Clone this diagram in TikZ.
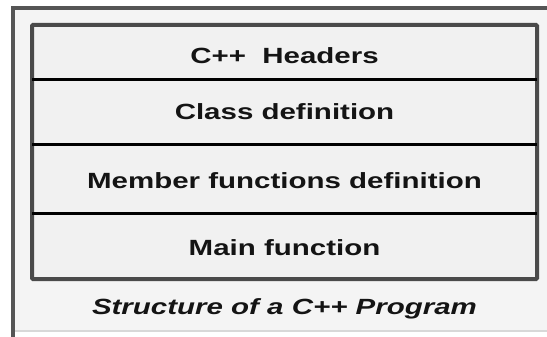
\documentclass[tikz,border=0pt]{standalone}
\usepackage{fontspec}
\newfontfamily\labfont[FakeStretch=1.34]{Liberation Sans}
\definecolor{txt}{HTML}{141414}
\definecolor{frame}{HTML}{555555}
\definecolor{boxline}{HTML}{4A4A4A}
\definecolor{outerbg}{HTML}{F4F4F4}
\definecolor{innerbg}{HTML}{F1F1F1}
\definecolor{faint}{HTML}{D8D8D8}
\tikzset{
  lab/.style={anchor=base, inner sep=0pt, text=txt,
    font=\labfont\bfseries\fontsize{22}{26}\selectfont},
  caption/.style={lab, font=\labfont\bfseries\itshape\fontsize{22}{26}\selectfont},
  outerframe/.style={draw=frame, line width=4pt},
  innerframe/.style={draw=boxline, line width=4pt, fill=innerbg, rounded corners=1pt},
  divider/.style={draw=black, line width=3pt}
}
\begin{document}
\begin{tikzpicture}[x=1pt,y=-1pt]
\useasboundingbox (0,0) rectangle (547,337);
\clip (0,0) rectangle (547,337);
\fill[white] (0,0) rectangle (547,337);
\fill[outerbg] (12.5,8) rectangle (570,331);
\draw[faint, line width=1.5pt] (12.5,331) -- (570,331);
\draw[outerframe] (12.5,340) -- (12.5,8) -- (570,8);
\draw[innerframe] (32,25) rectangle (537,279);
\coordinate (d1l) at (32,80);  \coordinate (d1r) at (537,80);
\coordinate (d2l) at (32,145); \coordinate (d2r) at (537,145);
\coordinate (d3l) at (32,213); \coordinate (d3r) at (537,213);
\draw[divider] (d1l) -- (d1r);
\draw[divider] (d2l) -- (d2r);
\draw[divider] (d3l) -- (d3r);
\node[lab] (headers) at (284.5,63.8) {C++\ \ Headers};
\node[lab] (classdef) at (284.5,119.8) {Class definition};
\node[lab] (member) at (284.5,188.3) {Member functions definition};
\node[lab] (mainfn) at (284.5,255.8) {Main function};
\node[caption] (cap) at (284.5,314.3) {Structure of a C++ Program};
\end{tikzpicture}
\end{document}
